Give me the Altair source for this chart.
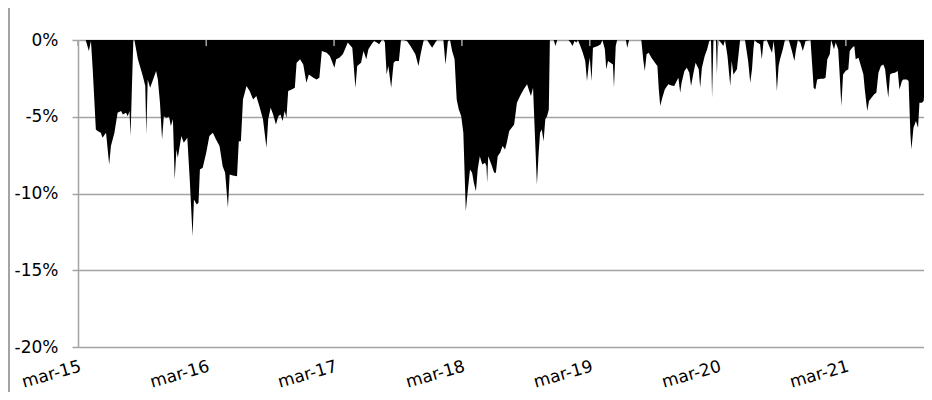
import altair as alt
import pandas as pd

dates = [
"2015-03-01","2015-03-23","2015-04-01","2015-04-07","2015-04-12","2015-04-21","2015-04-26","2015-05-05","2015-05-10","2015-05-20",
"2015-05-29","2015-06-03","2015-06-13","2015-06-22","2015-07-02","2015-07-07","2015-07-16","2015-07-21","2015-07-26","2015-07-29",
"2015-08-02","2015-08-06","2015-08-09","2015-08-19","2015-09-02","2015-09-09","2015-09-12","2015-09-16","2015-09-23","2015-10-10",
"2015-10-15","2015-10-21","2015-10-27","2015-11-01","2015-11-08","2015-11-16","2015-11-21","2015-11-27","2015-12-02","2015-12-07",
"2015-12-11","2015-12-21","2015-12-28","2016-01-07","2016-01-14","2016-01-22","2016-01-26","2016-02-03","2016-02-08","2016-02-12",
"2016-02-20","2016-03-01","2016-03-10","2016-03-20","2016-03-29","2016-04-08","2016-04-17","2016-04-24","2016-05-02","2016-05-07",
"2016-05-16","2016-05-28","2016-06-02","2016-06-08","2016-06-14","2016-06-24","2016-07-03","2016-07-13","2016-07-22","2016-08-01",
"2016-08-10","2016-08-20","2016-08-25","2016-09-01","2016-09-08","2016-09-16","2016-09-23","2016-09-29","2016-10-05","2016-10-11",
"2016-10-16","2016-10-21","2016-10-31","2016-11-09","2016-11-14","2016-11-24","2016-12-03","2016-12-12","2016-12-19","2017-01-01",
"2017-01-10","2017-01-18","2017-01-25","2017-02-08","2017-02-17","2017-03-02","2017-03-07","2017-03-16","2017-03-26","2017-04-03",
"2017-04-09","2017-04-22","2017-05-01","2017-05-06","2017-05-17","2017-05-24",
"2017-06-01","2017-06-07","2017-06-16","2017-06-23","2017-07-01","2017-07-08","2017-07-15","2017-07-21","2017-07-24","2017-07-29",
"2017-08-03","2017-08-11","2017-08-18","2017-08-23","2017-09-02","2017-09-08","2017-09-16","2017-09-25","2017-10-05","2017-10-19",
"2017-10-28","2017-11-03","2017-11-08","2017-11-12","2017-11-22","2017-11-26","2017-12-06","2017-12-15","2017-12-20","2018-01-07",
"2018-01-13","2018-01-20","2018-01-26","2018-02-01","2018-02-08","2018-02-14","2018-02-20","2018-02-27","2018-03-05","2018-03-12",
"2018-03-17","2018-03-24","2018-03-30","2018-04-04","2018-04-10","2018-04-15","2018-04-21","2018-04-28","2018-05-06","2018-05-10",
"2018-05-12","2018-05-15","2018-05-24","2018-06-01","2018-06-06","2018-06-11","2018-06-18","2018-06-25","2018-07-02","2018-07-07",
"2018-07-14","2018-07-21","2018-07-28","2018-08-05","2018-08-14","2018-08-24","2018-09-03","2018-09-09","2018-09-14","2018-09-20",
"2018-09-25","2018-10-01","2018-10-06","2018-10-10","2018-10-15","2018-10-20","2018-10-25","2018-10-30","2018-11-04","2018-11-07",
"2018-11-18","2018-11-23","2018-11-28","2018-12-30","2019-01-05","2019-01-11","2019-01-16","2019-01-22","2019-01-26","2019-02-02",
"2019-02-09","2019-02-16","2019-02-21","2019-02-26","2019-03-01","2019-03-06","2019-03-10","2019-03-24","2019-04-01","2019-04-06",
"2019-04-13","2019-04-17","2019-04-22","2019-04-29","2019-05-06","2019-05-09","2019-05-14","2019-05-18","2019-06-12","2019-06-16",
"2019-06-21","2019-07-26","2019-08-01","2019-08-05",
"2019-08-10","2019-08-16","2019-08-24","2019-09-03","2019-09-10","2019-09-14","2019-09-18","2019-09-24","2019-10-01","2019-10-11",
"2019-10-20","2019-10-28","2019-11-04","2019-11-09","2019-11-14","2019-11-18","2019-11-26","2019-12-03","2019-12-10","2019-12-15",
"2019-12-22","2019-12-28","2020-01-06","2020-01-10","2020-01-15","2020-01-23","2020-01-30","2020-02-05","2020-02-10","2020-02-13",
"2020-02-17","2020-02-24","2020-02-27","2020-02-29","2020-03-03","2020-03-09","2020-03-16","2020-03-21","2020-03-28","2020-04-05",
"2020-04-09","2020-04-14","2020-04-24","2020-05-03","2020-05-17","2020-05-26","2020-06-01","2020-06-06","2020-06-10","2020-06-13",
"2020-06-20","2020-06-29","2020-07-04","2020-07-09","2020-07-18","2020-07-25","2020-08-02","2020-08-07","2020-08-11","2020-08-16",
"2020-08-21","2020-08-25","2020-09-02","2020-09-08","2020-09-19","2020-09-28","2020-10-05","2020-10-09","2020-10-15","2020-10-22",
"2020-10-29","2020-11-06","2020-11-20","2020-11-25","2020-11-29","2020-12-04","2020-12-09","2020-12-18","2020-12-27","2021-01-02",
"2021-01-07","2021-01-14","2021-01-18","2021-01-26","2021-01-31","2021-02-07","2021-02-11","2021-02-16","2021-02-21","2021-02-28",
"2021-03-08","2021-03-12","2021-03-19","2021-03-25","2021-03-29","2021-04-06","2021-04-13","2021-04-20","2021-04-24","2021-05-01",
"2021-05-06","2021-05-13","2021-05-21","2021-05-27","2021-06-02","2021-06-09","2021-06-16","2021-06-21","2021-06-25","2021-06-30",
"2021-07-05","2021-07-11","2021-07-19","2021-07-27","2021-08-01","2021-08-08","2021-08-12","2021-08-22","2021-08-27","2021-09-01",
"2021-09-04","2021-09-10","2021-09-17","2021-09-23","2021-09-27","2021-10-04","2021-10-09","2021-10-14","2021-10-23","2021-11-03",
]

drawdown = [
0, 0, -0.72, -0.07, -1.91, -5.83, -5.93, -6.04, -6.37, -6.04,
-8.11, -6.91, -6.04, -4.74, -4.63, -4.85, -4.74, -4.96, -4.63, -6.26,
-3.0, 0, 0, -1.26, -2.35, -3.0, -6.15, -2.57, -3.11, -2.02,
-2.57, -4.09, -6.48, -4.96, -5.07, -5.0, -5.61, -5.17, -9.09, -7.13,
-7.67, -6.26, -6.70, -6.37, -9.09, -12.78, -10.39, -10.72, -10.61, -8.43,
-8.33, -7.35, -6.26, -6.04, -6.48, -6.91, -8.22, -8.65, -10.93, -8.76,
-8.83, -8.87, -6.59, -6.59, -3.87, -3.0, -3.33, -3.87, -3.65, -4.41,
-5.17, -7.02, -5.17, -4.41, -4.85, -5.5, -4.96, -4.85, -5.28, -4.63,
-5.07, -3.33, -3.22, -3.11, -1.48, -1.26, -1.59, -2.78, -2.24, -2.46,
-2.57, -2.46, -0.72, -0.83, -1.04, -1.80, -1.26, -1.15, -0.93, -0.5,
-0.17, -0.5, -3.11, -1.70, -1.48, -0.72,
-1.26, -0.61, -0.28, -0.07, -0.17, -0.28, 0, 0, -0.17, -2.24,
-1.70, -3.11, -1.48, -1.37, -1.37, 0, 0, -0.07, -0.39, -0.93,
-1.70, -0.93, -0.39, 0, 0, -0.17, -0.5, -0.17, 0, 0,
-1.59, -0.07, 0, -0.72, -1.26, -3.87, -4.52, -4.96, -6.04, -11.15,
-9.96, -8.43, -8.65, -9.30, -9.85, -8.43, -7.57, -8.11, -8.0, -8.22,
-9.30, -7.57, -8.11, -8.65, -8.65, -7.57, -7.35, -6.91, -7.13, -6.70,
-5.93, -5.72, -5.5, -4.09, -3.65, -3.22, -2.89, -3.33, -3.65, -3.11,
-6.04, -9.41, -7.35, -6.04, -5.83, -6.59, -5.17, -4.96, -4.52, 0,
0, -0.39, 0, 0, -0.17, -0.39, -0.07, -0.17, 0, -0.39,
-0.83, -1.37, -2.67, -1.59, -1.15, -2.67, -0.5, -0.39, -0.28, 0,
-0.61, -1.91, -1.37, -1.48, -1.59, -3.11, -0.39, 0, 0, -0.5,
0, 0, -1.37, -2.02,
-0.93, -0.83, -1.15, -1.48, -1.70, -3.22, -4.30, -3.76, -3.22, -2.89,
-2.96, -3.0, -2.67, -2.46, -3.43, -2.78, -2.02, -1.80, -2.13, -3.0,
-2.13, -1.48, -1.91, -3.11, -1.80, -1.04, -0.61, -0.07, 0, -3.76,
0, 0, -2.24, -0.39, 0, -0.17, -0.39, 0, -1.04, -3.0,
-1.37, -2.24, -1.91, 0, 0, -1.37, -2.78, -1.91, -0.61, 0,
-0.17, -0.28, -1.26, -0.07, 0, -0.39, -0.83, -0.07, -1.04, -3.33,
-1.70, -1.26, -0.61, 0, 0, -0.72, -1.37, -0.72, 0, -0.17,
-0.72, -0.07, 0, -1.70, -3.11, -3.22, -2.57, -2.52, -2.52, -2.46,
-1.26, -0.93, 0, -0.61, -0.17, -0.61, -2.13, -4.30, -2.24, -2.02,
-1.91, -0.72, -0.5, -0.39, -1.26, -1.15, -1.70, -2.24, -3.22, -4.63,
-3.98, -3.76, -3.54, -3.43, -2.13, -1.70, -1.59, -1.91, -2.78, -3.76,
-2.24, -2.17, -2.13, -2.02, -3.22, -2.67, -2.57, -2.57, -2.67, -6.04,
-7.13, -5.72, -5.28, -5.72, -4.09, -4.09, -3.98, -2.67, -2.57, -2.57,
]

tick_years = [2015, 2016, 2017, 2018, 2019, 2020, 2021]
y_ticks = [-20, -15, -10, -5, 0]

df = pd.DataFrame({"date": dates, "dd": drawdown})
ticks_df = pd.DataFrame({"date": [f"{y}-03-01" for y in tick_years]})

GRAY = "#a3a3a3"
FONT = "DejaVu Sans"

x_scale = alt.Scale(domain=["2015-03-01", "2021-10-10"], nice=False)
y_scale = alt.Scale(domain=[-20, 0], nice=False)

area = alt.Chart(df).mark_area(color="#000000", interpolate="linear", clip=True).encode(
    x=alt.X("date:T", scale=x_scale, title=None,
            axis=alt.Axis(values=[alt.DateTime(year=y, month=3, date=1, utc=True) for y in tick_years],
                          labelExpr="'mar-' + utcFormat(datum.value, '%y')",
                          domain=False, ticks=False, grid=False,
                          labelAngle=-16, labelAlign="right", labelBaseline="top",
                          labelPadding=11, labelFontSize=17, labelFont=FONT,
                          labelColor="#000000", labelOverlap=False, labelFlush=False)),
    y=alt.Y("dd:Q", scale=y_scale, title=None,
            axis=alt.Axis(values=y_ticks, labelExpr="datum.value + '%'",
                          grid=True, gridColor=GRAY, gridWidth=1.5,
                          domain=True, domainColor=GRAY, domainWidth=1.5,
                          ticks=True, tickColor=GRAY, tickSize=6, tickWidth=1.5,
                          labelPadding=14, labelFontSize=17, labelFont=FONT,
                          labelColor="#000000")),
)

top_ticks = alt.Chart(ticks_df).mark_rule(color=GRAY, strokeWidth=1.5).encode(
    x=alt.X("date:T", scale=x_scale),
    y=alt.value(0),
    y2=alt.value(6),
)

border = alt.Chart(ticks_df).mark_rule(color=GRAY, strokeWidth=2).encode(
    x=alt.value(-69),
    y=alt.value(-32),
    y2=alt.value(352),
)

chart = alt.layer(area, top_ticks, border).properties(
    width=846, height=307,
    autosize=alt.AutoSizeParams(type="none"),
    padding={"left": 70, "top": 32, "right": 0, "bottom": 45},
).configure_view(stroke=None).configure(background="#ffffff")

chart.save("out.html", embed_options={"renderer": "svg", "actions": False})
